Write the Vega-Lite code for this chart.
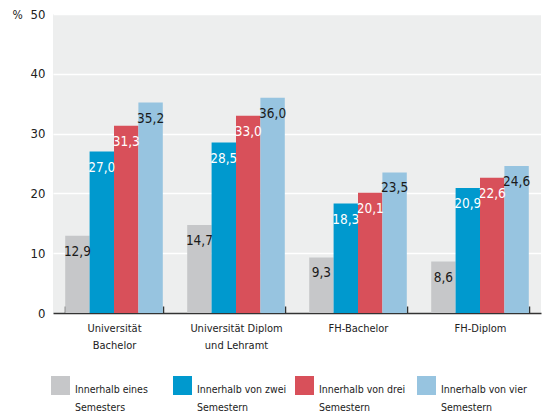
{
  "$schema": "https://vega.github.io/schema/vega-lite/v6.json",
  "width": 488,
  "height": 299,
  "autosize": {"type": "none"},
  "padding": {"left": 53, "top": 14, "right": 7, "bottom": 99},
  "background": "white",
  "config": {
    "font": "DejaVu Sans Condensed, Liberation Sans Narrow, sans-serif",
    "view": {"fill": "#EDEEEE", "stroke": null},
    "locale": {"number": {"decimal": ",", "thousands": ".", "grouping": [3], "currency": ["", " €"]}}
  },
  "data": {
    "values": [
      {"group": "Universität Bachelor", "series": "Innerhalb eines Semesters", "value": 12.9},
      {"group": "Universität Bachelor", "series": "Innerhalb von zwei Semestern", "value": 27.0},
      {"group": "Universität Bachelor", "series": "Innerhalb von drei Semestern", "value": 31.3},
      {"group": "Universität Bachelor", "series": "Innerhalb von vier Semestern", "value": 35.2},
      {"group": "Universität Diplom und Lehramt", "series": "Innerhalb eines Semesters", "value": 14.7},
      {"group": "Universität Diplom und Lehramt", "series": "Innerhalb von zwei Semestern", "value": 28.5},
      {"group": "Universität Diplom und Lehramt", "series": "Innerhalb von drei Semestern", "value": 33.0},
      {"group": "Universität Diplom und Lehramt", "series": "Innerhalb von vier Semestern", "value": 36.0},
      {"group": "FH-Bachelor", "series": "Innerhalb eines Semesters", "value": 9.3},
      {"group": "FH-Bachelor", "series": "Innerhalb von zwei Semestern", "value": 18.3},
      {"group": "FH-Bachelor", "series": "Innerhalb von drei Semestern", "value": 20.1},
      {"group": "FH-Bachelor", "series": "Innerhalb von vier Semestern", "value": 23.5},
      {"group": "FH-Diplom", "series": "Innerhalb eines Semesters", "value": 8.6},
      {"group": "FH-Diplom", "series": "Innerhalb von zwei Semestern", "value": 20.9},
      {"group": "FH-Diplom", "series": "Innerhalb von drei Semestern", "value": 22.6},
      {"group": "FH-Diplom", "series": "Innerhalb von vier Semestern", "value": 24.6}
    ]
  },
  "encoding": {
    "x": {
      "field": "group", "type": "nominal", "sort": null,
      "scale": {"paddingInner": 0.2, "paddingOuter": 0.1},
      "axis": {
        "title": null, "labelAngle": 0, "tickBand": "extent",
        "domainColor": "#333333", "domainWidth": 1.5,
        "tickColor": "#333333", "tickWidth": 1.5, "tickSize": -7,
        "labelPadding": 16, "labelFontSize": 11, "labelColor": "#222222",
        "labelLineHeight": 17, "labelBaseline": "top",
        "labelExpr": "datum.value == 'Universität Bachelor' ? ['Universität', 'Bachelor'] : datum.value == 'Universität Diplom und Lehramt' ? ['Universität Diplom', 'und Lehramt'] : datum.value"
      }
    },
    "xOffset": {"field": "series", "type": "nominal", "sort": null},
    "y": {
      "field": "value", "type": "quantitative",
      "scale": {"domain": [0, 50], "nice": false},
      "axis": {
        "title": "%", "titleAngle": 0, "titleX": -36, "titleY": 0,
        "titleAlign": "center", "titleBaseline": "middle", "titleFontWeight": "normal",
        "titleFontSize": 12, "titleColor": "#222222",
        "values": [0, 10, 20, 30, 40, 50],
        "domain": false, "ticks": false, "labelPadding": 8,
        "labelFontSize": 13, "labelColor": "#222222",
        "grid": true, "gridColor": "white", "gridWidth": 1.5
      }
    }
  },
  "layer": [
    {
      "mark": {"type": "bar"},
      "encoding": {
        "color": {
          "field": "series", "type": "nominal", "sort": null,
          "scale": {
            "domain": ["Innerhalb eines Semesters", "Innerhalb von zwei Semestern", "Innerhalb von drei Semestern", "Innerhalb von vier Semestern"],
            "range": ["#C6C7C9", "#0099CE", "#D8505A", "#97C4E0"]
          },
          "legend": {
            "title": null, "orient": "none", "legendX": -2, "legendY": 362,
            "direction": "horizontal", "columns": 4, "gridAlign": "all",
            "columnPadding": 8, "padding": 0,
            "symbolType": "square", "symbolSize": 361, "symbolStrokeWidth": 0,
            "labelFontSize": 10.5, "labelColor": "#222222", "labelOffset": 5,
            "labelLimit": 200, "labelBaseline": "top",
            "encode": {"labels": {"update": {"lineHeight": {"value": 18}, "dy": {"value": -1}}}},
            "labelExpr": "[slice(datum.label, 0, lastindexof(datum.label, ' ')), slice(datum.label, lastindexof(datum.label, ' ') + 1)]"
          }
        }
      }
    },
    {
      "mark": {"type": "text", "baseline": "top", "dy": 9, "fontSize": 13.5},
      "encoding": {
        "text": {"field": "value", "type": "quantitative", "format": ".1f"},
        "color": {
          "condition": {"test": "datum.series == 'Innerhalb von zwei Semestern' || datum.series == 'Innerhalb von drei Semestern'", "value": "white"},
          "value": "#1a1a1a"
        }
      }
    }
  ]
}
